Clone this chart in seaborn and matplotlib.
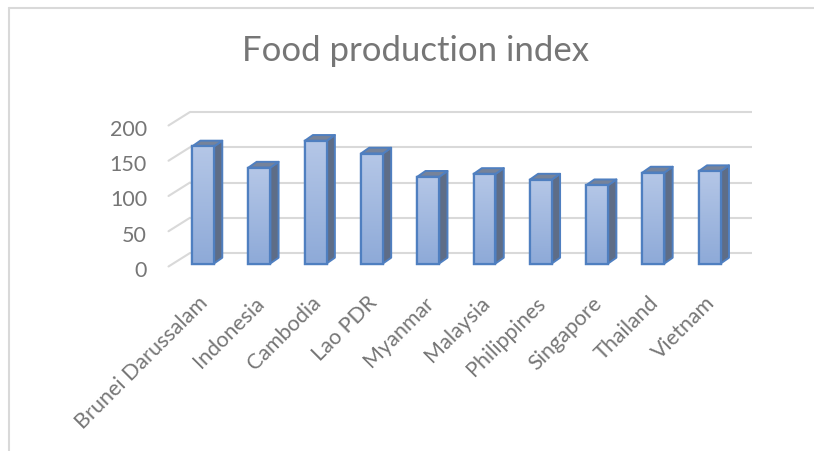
import numpy as np
import pandas as pd
import matplotlib
matplotlib.use("Agg")
import matplotlib.pyplot as plt
from matplotlib.patches import Polygon, Rectangle
from matplotlib.colors import LinearSegmentedColormap
import seaborn as sns

# ---- data ----
countries = ["Brunei Darussalam", "Indonesia", "Cambodia", "Lao PDR", "Myanmar",
             "Malaysia", "Philippines", "Singapore", "Thailand", "Vietnam"]
values = [166, 136, 174, 156, 123, 127, 119, 111, 129, 131]
y_ticks = [0, 50, 100, 150, 200]
title = "Food production index"

sns.set_theme(style="white")
plt.rcParams["font.family"] = ["Lato", "DejaVu Sans"]

W, H = 814, 452
fig = plt.figure(figsize=(W / 100, H / 100), dpi=100)
ax = fig.add_axes([0, 0, 1, 1])

# pixel mapping helpers (category spacing / value scale)
px_cat = 56.3
px_val = 0.705
x0_px = 203.0
y0_px = 264.5

df = pd.DataFrame({"country": countries, "value": values})
sns.barplot(data=df, x="country", y="value", width=0.39, color="#a3b7de",
            edgecolor="#4f7fc0", linewidth=1.6, ax=ax, zorder=5, saturation=1)

xlim = (-x0_px / px_cat, (W - x0_px) / px_cat)
ylim = ((y0_px - H) / px_val, y0_px / px_val)

# depth offsets
dx = 8.3 / px_cat
dy = 5.8 / px_val

grad_cmap = LinearSegmentedColormap.from_list("g", ["#8eaad8", "#b5c7e7"])
grad = np.linspace(0, 1, 256).reshape(-1, 1)

for p in list(ax.patches):
    x, w, h = p.get_x(), p.get_width(), p.get_height()
    im = ax.imshow(grad, extent=[x, x + w, 0, h], origin="lower", aspect="auto",
                   cmap=grad_cmap, zorder=5.5, interpolation="bilinear")
    im.set_clip_path(p)
    ax.add_patch(Rectangle((x, 0), w, h, fill=False, edgecolor="#4f7fc0",
                           linewidth=1.6, zorder=6))
    side = Polygon([(x + w, 0), (x + w + dx, dy), (x + w + dx, h + dy), (x + w, h)],
                   closed=True, facecolor="#5e6d87", edgecolor="#4f7fc0",
                   linewidth=1.4, zorder=4.8, joinstyle="round")
    top = Polygon([(x, h), (x + dx, h + dy), (x + w + dx, h + dy), (x + w, h)],
                  closed=True, facecolor="#76839a", edgecolor="#4f7fc0",
                  linewidth=1.4, zorder=4.9, joinstyle="round")
    ax.add_patch(side)
    ax.add_patch(top)

# walls / gridlines
back_dx = (190 - x0_px) / px_cat
back_end = (752 - x0_px) / px_cat
front_dx = (168.5 - x0_px) / px_cat
back_shift = (y0_px - 254) / px_val
front_shift = (y0_px - 267.5) / px_val
for v in y_ticks:
    ax.plot([back_dx, back_end], [v + back_shift, v + back_shift],
            color="#d9d9d9", lw=1.5, zorder=1, solid_capstyle="butt")
    ax.plot([front_dx, back_dx], [v + front_shift, v + back_shift],
            color="#d9d9d9", lw=1.5, zorder=1)

txt_color = "#767676"

# y tick labels
label_x = (147 - x0_px) / px_cat
label_shift = (y0_px - 271) / px_val
for v in y_ticks:
    ax.text(label_x, v + label_shift, f"{v}", ha="right", va="center",
            fontsize=15.5, color=txt_color)

# x tick labels
lab_y = (y0_px - 300) / px_val
for i, c in enumerate(countries):
    ax.text(i + 2.0 / px_cat, lab_y, c, rotation=45, rotation_mode="anchor",
            ha="right", va="center", fontsize=15.5, color=txt_color)

ax.set_xlim(*xlim)
ax.set_ylim(*ylim)
ax.set_axis_off()

# title
fig.text(416 / W, 1 - 61 / H, title, ha="center", va="baseline",
         fontsize=25, color=txt_color)

# chart border (top and left visible)
fig.add_artist(plt.Line2D([9 / W, 1.0], [1 - 9 / H, 1 - 9 / H],
                          transform=fig.transFigure, color="#d9d9d9", lw=1.5))
fig.add_artist(plt.Line2D([9 / W, 9 / W], [0, 1 - 9 / H],
                          transform=fig.transFigure, color="#d9d9d9", lw=1.5))

fig.savefig("out.png", dpi=100)
